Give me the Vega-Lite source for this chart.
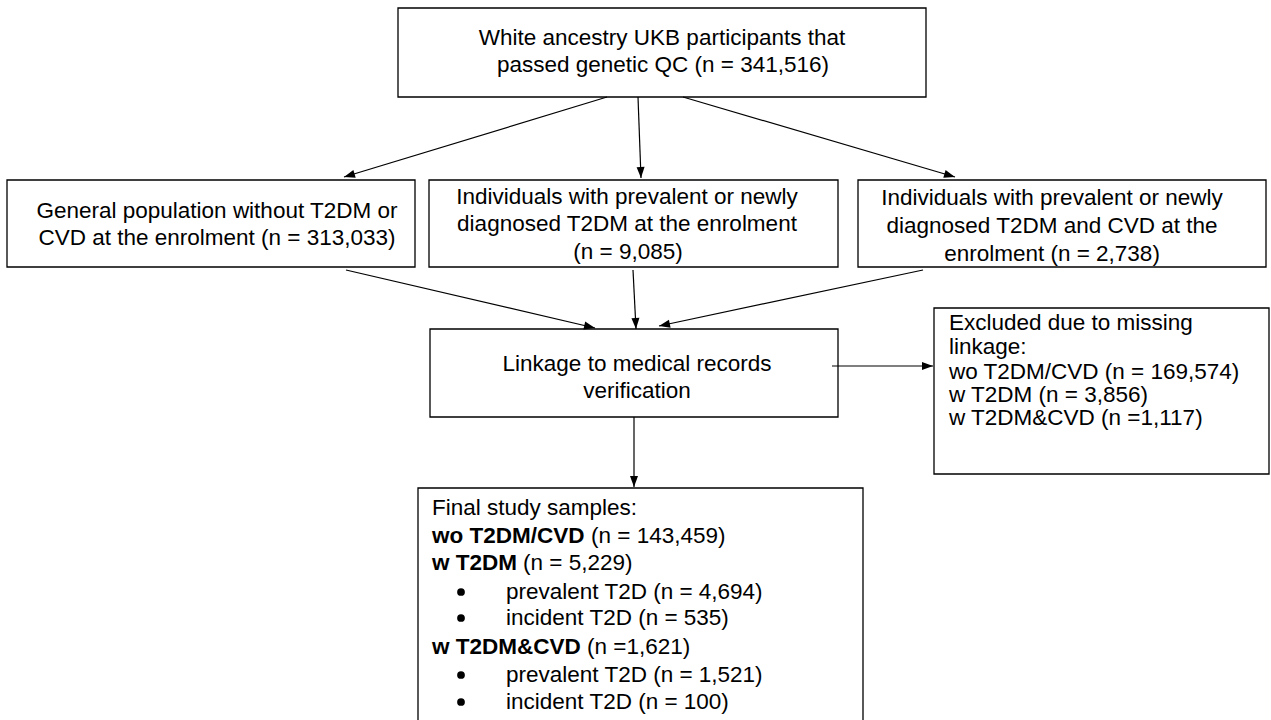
{
  "$schema": "https://vega.github.io/schema/vega-lite/v6.json",
  "width": 1271,
  "height": 720,
  "padding": 0,
  "autosize": {"type": "fit", "contains": "padding"},
  "background": "white",
  "config": {"view": {"stroke": null}},
  "datasets": {
    "boxes": [
      {"x": 398, "y": 8, "x2": 926, "y2": 97},
      {"x": 7, "y": 180, "x2": 415, "y2": 267},
      {"x": 429, "y": 180, "x2": 838, "y2": 267},
      {"x": 858, "y": 180, "x2": 1266, "y2": 267},
      {"x": 430, "y": 329, "x2": 838, "y2": 417},
      {"x": 934, "y": 308, "x2": 1269, "y2": 474},
      {"x": 418, "y": 488, "x2": 863, "y2": 740}
    ],
    "arrows": [
      {"x": 607, "y": 97, "x2": 344, "y2": 177},
      {"x": 638, "y": 97, "x2": 641, "y2": 178},
      {"x": 683, "y": 97, "x2": 955, "y2": 177},
      {"x": 346, "y": 270, "x2": 595, "y2": 328},
      {"x": 633, "y": 270, "x2": 636, "y2": 329},
      {"x": 923, "y": 270, "x2": 659, "y2": 326},
      {"x": 634, "y": 417, "x2": 634, "y2": 487},
      {"x": 832, "y": 366, "x2": 933, "y2": 366}
    ],
    "centred": [
      {"x": 662, "y": 38, "text": "White ancestry UKB participants that"},
      {"x": 663, "y": 65, "text": "passed genetic QC (n = 341,516)"},
      {"x": 217, "y": 211, "text": "General population without T2DM or"},
      {"x": 217, "y": 238, "text": "CVD at the enrolment (n = 313,033)"},
      {"x": 627, "y": 197, "text": "Individuals with prevalent or newly"},
      {"x": 627, "y": 224, "text": "diagnosed T2DM at the enrolment"},
      {"x": 628, "y": 252, "text": "(n = 9,085)"},
      {"x": 1052, "y": 198, "text": "Individuals with prevalent or newly"},
      {"x": 1052, "y": 226, "text": "diagnosed T2DM and CVD at the"},
      {"x": 1052, "y": 254, "text": "enrolment (n = 2,738)"},
      {"x": 637, "y": 364, "text": "Linkage to medical records"},
      {"x": 637, "y": 391, "text": "verification"}
    ],
    "plain": [
      {"x": 949, "y": 323, "text": "Excluded due to missing"},
      {"x": 949, "y": 347, "text": "linkage:"},
      {"x": 949, "y": 372, "text": "wo T2DM/CVD (n = 169,574)"},
      {"x": 949, "y": 395, "text": "w T2DM (n = 3,856)"},
      {"x": 949, "y": 418, "text": "w T2DM&CVD (n =1,117)"},
      {"x": 432, "y": 508, "text": "Final study samples:"},
      {"x": 591, "y": 536, "text": "(n = 143,459)"},
      {"x": 523, "y": 563, "text": "(n = 5,229)"},
      {"x": 506, "y": 592, "text": "prevalent T2D (n = 4,694)"},
      {"x": 506, "y": 618, "text": "incident T2D (n = 535)"},
      {"x": 587, "y": 647, "text": "(n =1,621)"},
      {"x": 506, "y": 675, "text": "prevalent T2D (n = 1,521)"},
      {"x": 506, "y": 702, "text": "incident T2D (n = 100)"}
    ],
    "bold": [
      {"x": 432, "y": 536, "text": "wo T2DM/CVD"},
      {"x": 432, "y": 563, "text": "w T2DM"},
      {"x": 432, "y": 647, "text": "w T2DM&CVD"}
    ],
    "bullets": [
      {"x": 461, "y": 592},
      {"x": 461, "y": 618},
      {"x": 461, "y": 675},
      {"x": 461, "y": 702}
    ]
  },
  "encoding": {
    "x": {
      "field": "x",
      "type": "quantitative",
      "scale": {"domain": [0, 1271], "nice": false, "zero": false},
      "axis": null
    },
    "y": {
      "field": "y",
      "type": "quantitative",
      "scale": {"domain": [0, 720], "reverse": true, "nice": false, "zero": false},
      "axis": null
    }
  },
  "layer": [
    {
      "data": {"name": "boxes"},
      "mark": {"type": "rect", "fill": "white", "stroke": "black", "strokeWidth": 1.3, "clip": true},
      "encoding": {"x2": {"field": "x2"}, "y2": {"field": "y2"}}
    },
    {
      "data": {"name": "arrows"},
      "mark": {"type": "rule", "color": "black", "strokeWidth": 1.2},
      "encoding": {"x2": {"field": "x2"}, "y2": {"field": "y2"}}
    },
    {
      "data": {"name": "arrows"},
      "transform": [
        {"calculate": "atan2(datum.x2 - datum.x, datum.y - datum.y2) * 180 / PI", "as": "angle"}
      ],
      "mark": {"type": "point", "shape": "M0,0L-0.8,2.2L0.8,2.2Z", "filled": true, "color": "black", "opacity": 1, "size": 100},
      "encoding": {
        "x": {"field": "x2", "type": "quantitative"},
        "y": {"field": "y2", "type": "quantitative"},
        "angle": {"field": "angle", "type": "quantitative", "scale": null}
      }
    },
    {
      "data": {"name": "centred"},
      "mark": {"type": "text", "align": "center", "baseline": "middle", "font": "Liberation Sans", "fontSize": 22.5, "color": "black"},
      "encoding": {"text": {"field": "text"}}
    },
    {
      "data": {"name": "plain"},
      "mark": {"type": "text", "align": "left", "baseline": "middle", "font": "Liberation Sans", "fontSize": 22.5, "color": "black"},
      "encoding": {"text": {"field": "text"}}
    },
    {
      "data": {"name": "bold"},
      "mark": {"type": "text", "align": "left", "baseline": "middle", "font": "Liberation Sans", "fontSize": 22.5, "fontWeight": "bold", "color": "black"},
      "encoding": {"text": {"field": "text"}}
    },
    {
      "data": {"name": "bullets"},
      "mark": {"type": "point", "shape": "circle", "filled": true, "color": "black", "opacity": 1, "size": 60}
    }
  ]
}
